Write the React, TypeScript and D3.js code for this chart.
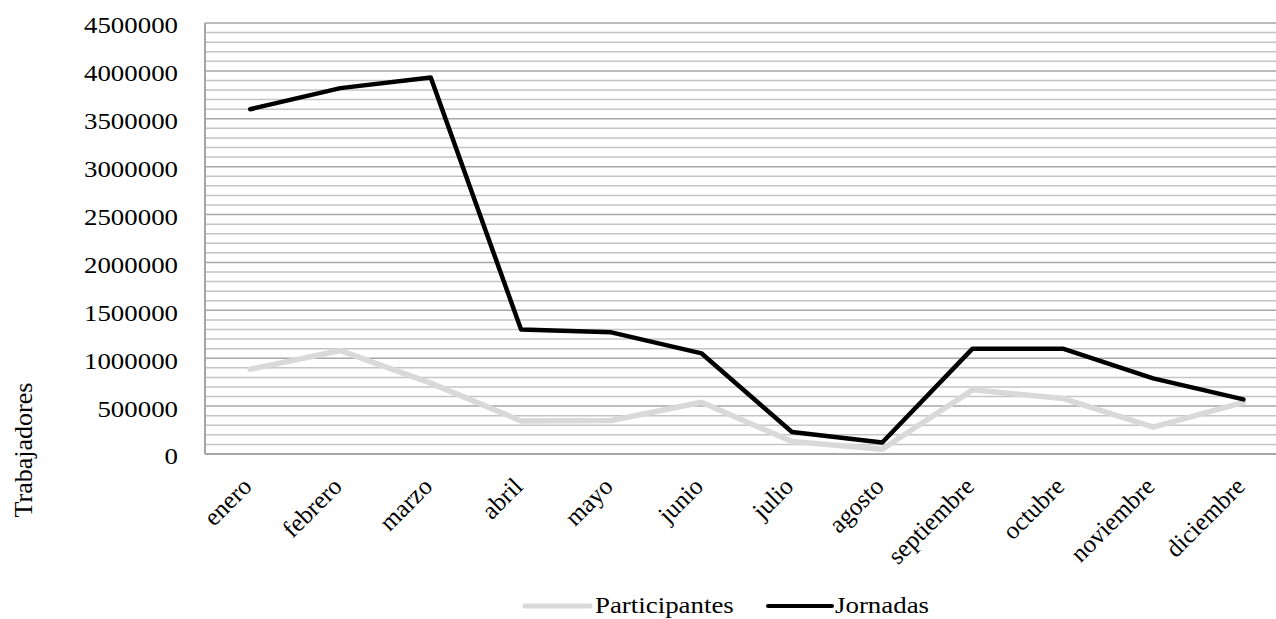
import React from 'react';
import * as d3 from 'd3';

const months = ['enero', 'febrero', 'marzo', 'abril', 'mayo', 'junio', 'julio', 'agosto', 'septiembre', 'octubre', 'noviembre', 'diciembre'];
const participantes = [885000, 1080000, 740000, 345000, 350000, 540000, 130000, 50000, 670000, 580000, 280000, 540000];
const jornadas = [3600000, 3820000, 3930000, 1300000, 1270000, 1050000, 230000, 120000, 1100000, 1100000, 790000, 570000];
const yTicks = [0, 500000, 1000000, 1500000, 2000000, 2500000, 3000000, 3500000, 4000000, 4500000];
const minorTicks = d3.range(0, 4500001, 100000);

const series = [
    { name: 'Participantes', values: participantes, color: '#d9d9d9', width: 5.5 },
    { name: 'Jornadas', values: jornadas, color: '#000000', width: 4.5 },
];

export default function App() {
    const W = 1276, H = 619;
    const left = 205, top = 23, bottom = 454;
    const bandW = 90.3;
    const fs = 24;
    const sx = 1.12; // text in the picture is a little wider than tall

    const x = d3.scaleBand<string>()
        .domain(months)
        .range([left, left + bandW * months.length]);
    const y = d3.scaleLinear()
        .domain([0, 4500000])
        .range([bottom, top]);

    const cx = (m: string) => (x(m) as number) + x.bandwidth() / 2;

    const line = d3.line<number>()
        .x((d, i) => cx(months[i]))
        .y(d => y(d));

    return (
        <svg width={W} height={H}
            style={{ position: 'absolute', left: 0, top: 0, background: '#fff', fontFamily: "'Liberation Serif', 'Times New Roman', serif" }}>
            {/* gridlines */}
            {minorTicks.map(t => (
                <line key={'m' + t} x1={left} x2={W} y1={y(t)} y2={y(t)}
                    stroke={t % 500000 === 0 ? '#a6a6a6' : '#c4c4c4'} strokeWidth={1.5} />
            ))}
            <line x1={left} x2={left} y1={top} y2={bottom} stroke="#a6a6a6" strokeWidth={2} />
            <line x1={left} x2={W} y1={bottom} y2={bottom} stroke="#a6a6a6" strokeWidth={2} />

            {/* y axis labels */}
            {yTicks.map(t => (
                <text key={t} transform={`translate(178,${y(t) + 2}) scale(${sx},1)`} dy="0.35em"
                    textAnchor="end" fontSize={fs} fill="#000">
                    {t}
                </text>
            ))}
            <text transform={`translate(32,450) rotate(-90)`} textAnchor="middle" fontSize={26} fill="#000">
                Trabajadores
            </text>

            {/* x axis labels */}
            {months.map(m => (
                <text key={m} transform={`translate(${cx(m) + 3},${488}) rotate(-45)`}
                    textAnchor="end" fontSize={25} fill="#000">
                    {m}
                </text>
            ))}

            {/* lines */}
            {series.map(s => (
                <path key={s.name} d={line(s.values) || ''} fill="none" stroke={s.color}
                    strokeWidth={s.width} strokeLinejoin="round" strokeLinecap="round" />
            ))}

            {/* legend */}
            <line x1={525} x2={590} y1={606} y2={606} stroke="#d9d9d9" strokeWidth={5} strokeLinecap="round" />
            <text transform={`translate(595,613) scale(${sx},1)`} fontSize={fs} fill="#000">Participantes</text>
            <line x1={768} x2={832} y1={606} y2={606} stroke="#000" strokeWidth={4} strokeLinecap="round" />
            <text transform={`translate(835,613) scale(${sx},1)`} fontSize={fs} fill="#000">Jornadas</text>
        </svg>
    );
}
